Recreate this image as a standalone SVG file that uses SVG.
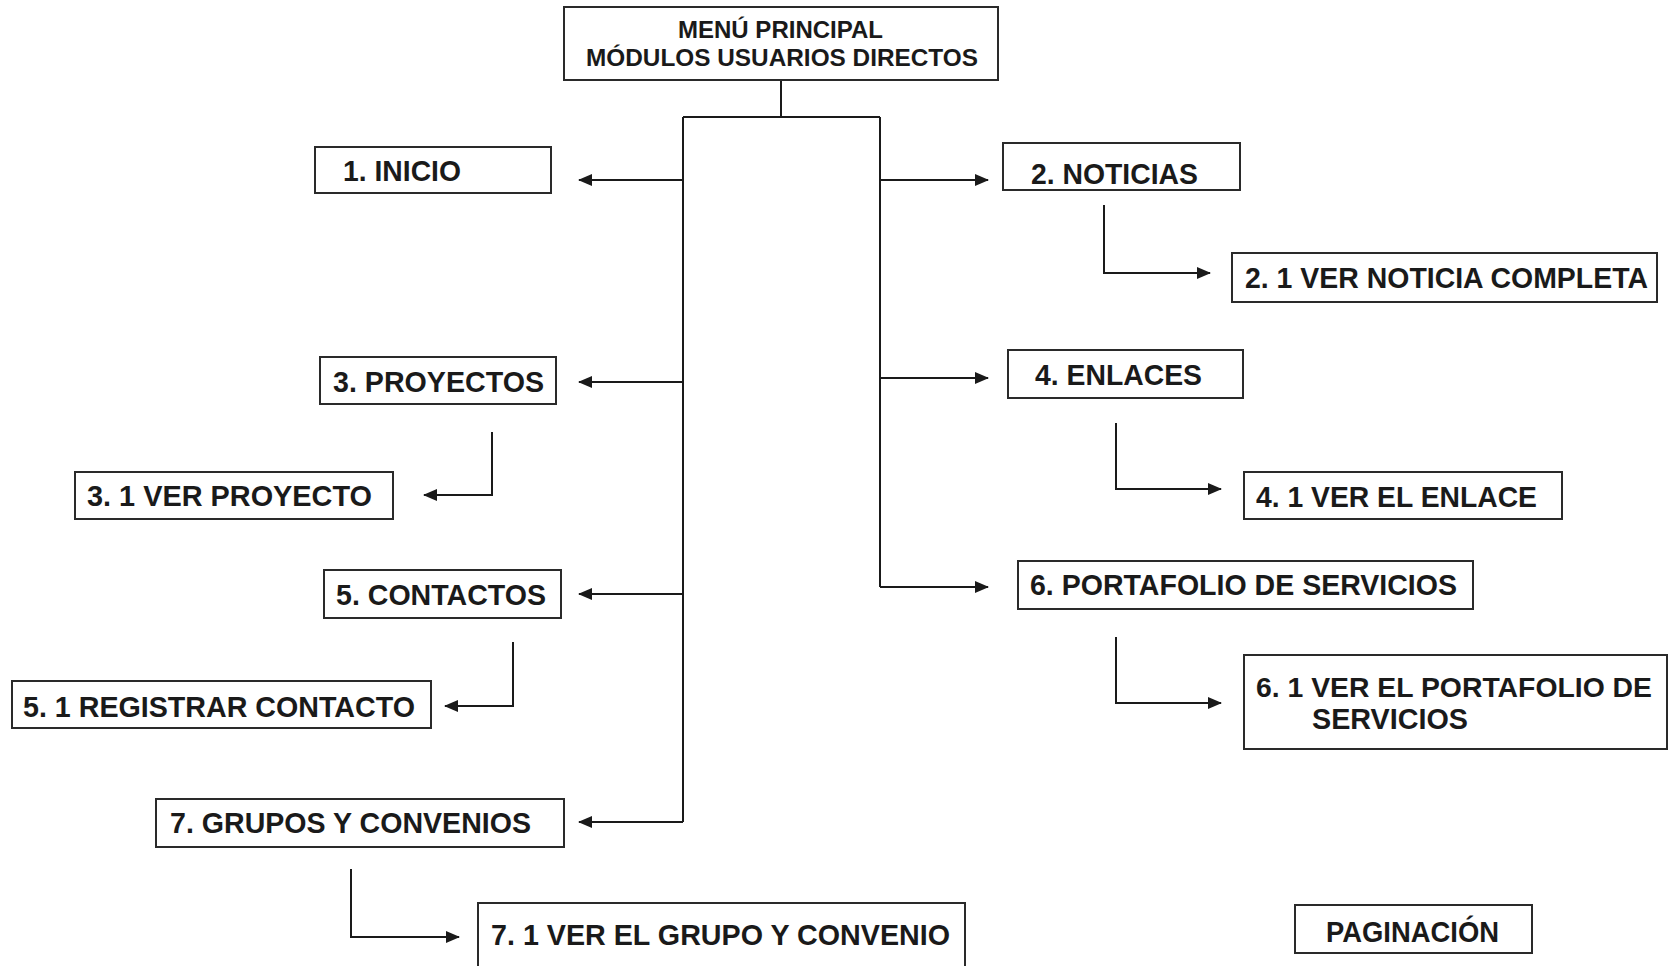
<svg xmlns="http://www.w3.org/2000/svg" width="1670" height="966" viewBox="0 0 1670 966">
<style>
.box{fill:#fff;stroke:#2a2a2a;stroke-width:2}
.t{font-family:"Liberation Sans",Arial,sans-serif;font-weight:bold;font-size:30px;fill:#1a1a1a}
.tm{font-family:"Liberation Sans",Arial,sans-serif;font-weight:bold;font-size:23px;fill:#1a1a1a}
.c{fill:none;stroke:#1a1a1a;stroke-width:2}
</style>
<defs>
<marker id="ah" markerUnits="userSpaceOnUse" markerWidth="14" markerHeight="14" viewBox="0 0 14 14" refX="13" refY="7" orient="auto">
<path d="M0,1 L14,7 L0,13 Z" fill="#1a1a1a"/>
</marker>
</defs>
<rect width="1670" height="966" fill="#fff"/>
<g id="connectors">
<path class="c" d="M781,80 V117"/>
<path class="c" d="M683,117 H880"/>
<path class="c" d="M683,117 V822"/>
<path class="c" d="M880,117 V587"/>
<path class="c" d="M683,180 H579" marker-end="url(#ah)"/>
<path class="c" d="M683,382 H579" marker-end="url(#ah)"/>
<path class="c" d="M683,594 H579" marker-end="url(#ah)"/>
<path class="c" d="M683,822 H579" marker-end="url(#ah)"/>
<path class="c" d="M880,180 H988" marker-end="url(#ah)"/>
<path class="c" d="M880,378 H988" marker-end="url(#ah)"/>
<path class="c" d="M880,587 H988" marker-end="url(#ah)"/>
<path class="c" d="M1104,205 V273 H1210" marker-end="url(#ah)"/>
<path class="c" d="M492,432 V495 H424" marker-end="url(#ah)"/>
<path class="c" d="M1116,423 V489 H1221" marker-end="url(#ah)"/>
<path class="c" d="M513,642 V706 H445" marker-end="url(#ah)"/>
<path class="c" d="M1116,637 V703 H1221" marker-end="url(#ah)"/>
<path class="c" d="M351,869 V937 H459" marker-end="url(#ah)"/>
</g>
<g id="menu">
<rect class="box" x="564" y="7" width="434" height="73"/>
<text class="tm" x="678" y="38" textLength="205" lengthAdjust="spacingAndGlyphs">MENÚ PRINCIPAL</text>
<text class="tm" x="586" y="66" textLength="392" lengthAdjust="spacingAndGlyphs">MÓDULOS USUARIOS DIRECTOS</text>
</g>
<g id="inicio">
<rect class="box" x="315" y="147" width="236" height="46"/>
<text class="t" x="343" y="181" textLength="118" lengthAdjust="spacingAndGlyphs">1. INICIO</text>
</g>
<g id="noticias">
<rect class="box" x="1003" y="143" width="237" height="47"/>
<text class="t" x="1031" y="184" textLength="167" lengthAdjust="spacingAndGlyphs">2. NOTICIAS</text>
</g>
<g id="noticia-completa">
<rect class="box" x="1232" y="253" width="425" height="49"/>
<text class="t" x="1245" y="288" style="font-size:29px" textLength="403" lengthAdjust="spacingAndGlyphs">2. 1 VER NOTICIA COMPLETA</text>
</g>
<g id="proyectos">
<rect class="box" x="320" y="357" width="236" height="47"/>
<text class="t" x="333" y="392" textLength="211" lengthAdjust="spacingAndGlyphs">3. PROYECTOS</text>
</g>
<g id="ver-proyecto">
<rect class="box" x="75" y="472" width="318" height="47"/>
<text class="t" x="87" y="506" textLength="285" lengthAdjust="spacingAndGlyphs">3. 1 VER PROYECTO</text>
</g>
<g id="enlaces">
<rect class="box" x="1008" y="350" width="235" height="48"/>
<text class="t" x="1035" y="385" textLength="167" lengthAdjust="spacingAndGlyphs">4. ENLACES</text>
</g>
<g id="ver-enlace">
<rect class="box" x="1244" y="472" width="318" height="47"/>
<text class="t" x="1256" y="507" textLength="281" lengthAdjust="spacingAndGlyphs">4. 1 VER EL ENLACE</text>
</g>
<g id="contactos">
<rect class="box" x="324" y="570" width="237" height="48"/>
<text class="t" x="336" y="605" textLength="210" lengthAdjust="spacingAndGlyphs">5. CONTACTOS</text>
</g>
<g id="registrar-contacto">
<rect class="box" x="12" y="681" width="419" height="47"/>
<text class="t" x="23" y="717" textLength="392" lengthAdjust="spacingAndGlyphs">5. 1 REGISTRAR CONTACTO</text>
</g>
<g id="portafolio">
<rect class="box" x="1018" y="561" width="455" height="48"/>
<text class="t" x="1030" y="595" textLength="427" lengthAdjust="spacingAndGlyphs">6. PORTAFOLIO DE SERVICIOS</text>
</g>
<g id="ver-portafolio">
<rect class="box" x="1244" y="655" width="423" height="94"/>
<text class="t" x="1256" y="697" style="font-size:28px" textLength="396" lengthAdjust="spacingAndGlyphs">6. 1 VER EL PORTAFOLIO DE</text>
<text class="t" x="1312" y="729" style="font-size:29px" textLength="156" lengthAdjust="spacingAndGlyphs">SERVICIOS</text>
</g>
<g id="grupos">
<rect class="box" x="156" y="799" width="408" height="48"/>
<text class="t" x="170" y="833" textLength="361" lengthAdjust="spacingAndGlyphs">7. GRUPOS Y CONVENIOS</text>
</g>
<g id="ver-grupo">
<rect class="box" x="478" y="903" width="487" height="80"/>
<text class="t" x="491" y="945" textLength="459" lengthAdjust="spacingAndGlyphs">7. 1 VER EL GRUPO Y CONVENIO</text>
</g>
<g id="paginacion">
<rect class="box" x="1295" y="905" width="237" height="48"/>
<text class="t" x="1326" y="942" textLength="173" lengthAdjust="spacingAndGlyphs">PAGINACIÓN</text>
</g>
</svg>
